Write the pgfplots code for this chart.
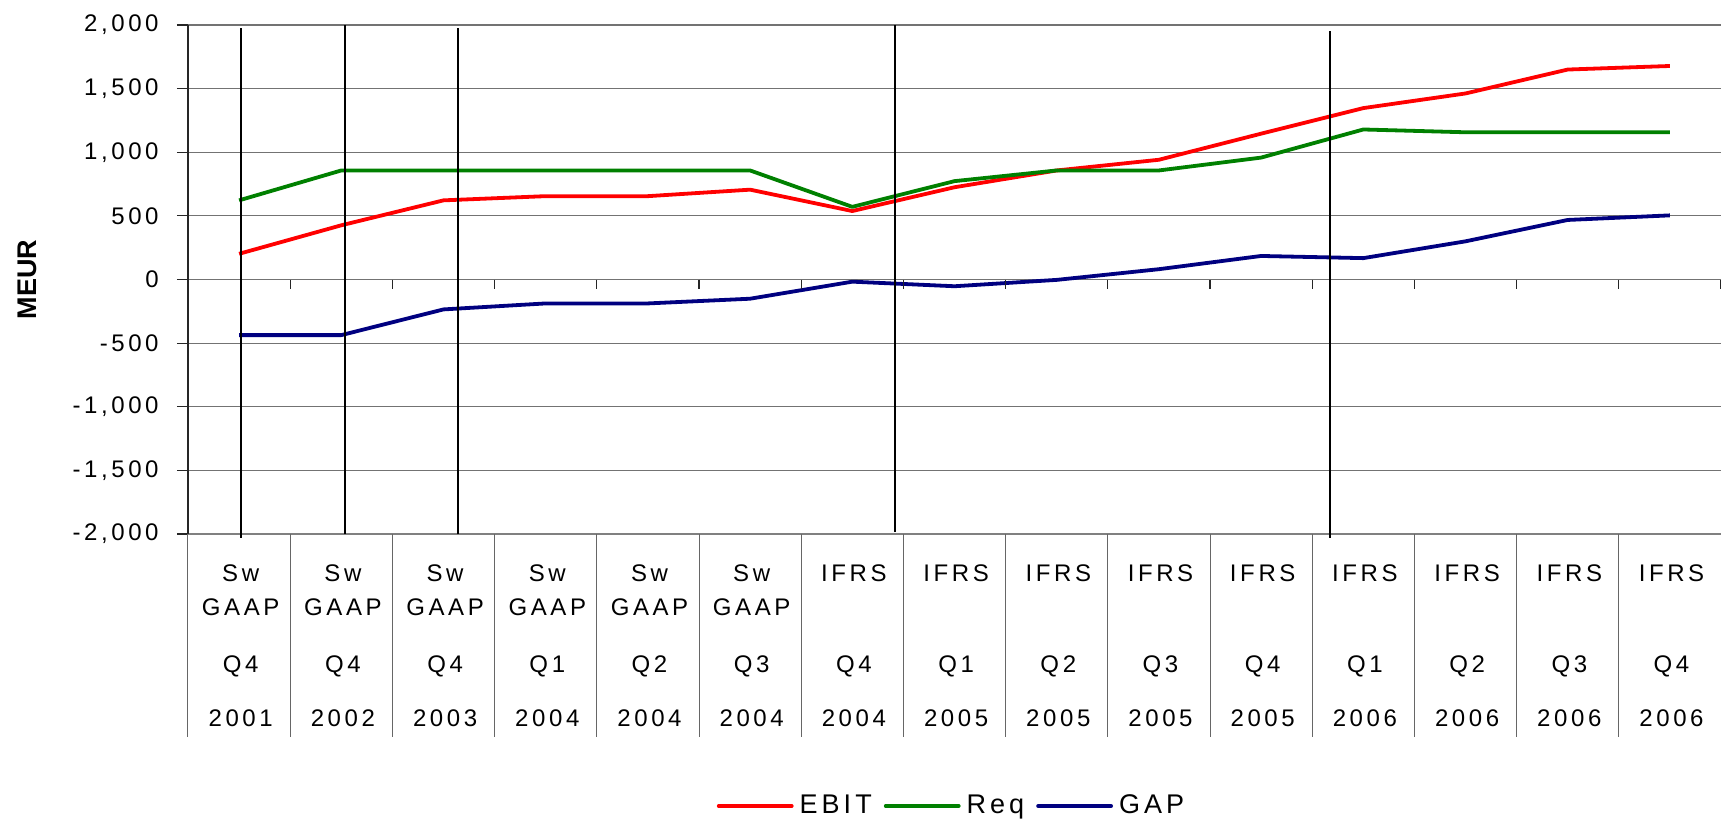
\documentclass[border=0pt]{standalone}
\usepackage{fontspec}
\setmainfont{Liberation Sans}[LetterSpace=15]
\newfontfamily\plainsans{Liberation Sans}
\usepackage{pgfplots}
\pgfplotsset{compat=1.18}
\definecolor{cRed}{HTML}{FF0000}
\definecolor{cGreen}{HTML}{008000}
\definecolor{cNavy}{HTML}{000080}
\newcommand{\lblfont}{\fontsize{12bp}{17bp}\selectfont}

\pgfplotstableread{
x EBIT Req GAP
0 202 622 -437
1 426 857 -437
2 622 857 -235
3 655 857 -188
4 655 857 -188
5 706 857 -151
6 538 571 -17
7 725 773 -53
8 857 857 -3
9 941 857 81
10 1146 958 185
11 1347 1179 168
12 1462 1157 300
13 1650 1157 468
14 1678 1157 504
}\datatable

\begin{document}
\begin{tikzpicture}
\begin{axis}[
  scale only axis, width=766.5bp, height=254.5bp,
  xmin=-0.5, xmax=14.5, ymin=-2000, ymax=2000,
  clip=false,
  axis x line*=bottom, axis y line*=left,
  x axis line style={black!50, line width=0.8bp},
  y axis line style={black!85, line width=0.6bp},
  ytick={-2000,-1500,...,2000},
  yticklabels={{-2,000},{-1,500},{-1,000},{-500},{0},{500},{1,000},{1,500},{2,000}},
  ymajorgrids, major grid style={black!55, line width=0.6bp},
  ytick align=outside,
  major tick length=5.5bp,
  y tick style={black!85, line width=0.6bp},
  xtick={0,...,14}, x tick style={draw=none},
  xticklabels={
    {Sw\\GAAP\\[11.5bp]Q4\\[10bp]2001},
    {Sw\\GAAP\\[11.5bp]Q4\\[10bp]2002},
    {Sw\\GAAP\\[11.5bp]Q4\\[10bp]2003},
    {Sw\\GAAP\\[11.5bp]Q1\\[10bp]2004},
    {Sw\\GAAP\\[11.5bp]Q2\\[10bp]2004},
    {Sw\\GAAP\\[11.5bp]Q3\\[10bp]2004},
    {IFRS\\\mbox{}\\[11.5bp]Q4\\[10bp]2004},
    {IFRS\\\mbox{}\\[11.5bp]Q1\\[10bp]2005},
    {IFRS\\\mbox{}\\[11.5bp]Q2\\[10bp]2005},
    {IFRS\\\mbox{}\\[11.5bp]Q3\\[10bp]2005},
    {IFRS\\\mbox{}\\[11.5bp]Q4\\[10bp]2005},
    {IFRS\\\mbox{}\\[11.5bp]Q1\\[10bp]2006},
    {IFRS\\\mbox{}\\[11.5bp]Q2\\[10bp]2006},
    {IFRS\\\mbox{}\\[11.5bp]Q3\\[10bp]2006},
    {IFRS\\\mbox{}\\[11.5bp]Q4\\[10bp]2006}},
  xticklabel style={font=\lblfont, align=center, anchor=north, inner sep=0pt, yshift=-15.2bp, xshift=0.8bp},
  yticklabel style={font=\lblfont, anchor=east, inner sep=0pt, xshift=-9bp},
  legend columns=3,
  legend style={at={(axis description cs:0.5,0)}, anchor=center, yshift=-136bp, xshift=-2bp,
    draw=none, fill=none, font=\fontsize{13.5bp}{16bp}\selectfont,
    nodes={inner xsep=0pt, inner ysep=0pt},
    /tikz/every odd column/.append style={column sep=3bp},
    /tikz/every even column/.append style={column sep=6bp}},
  legend image code/.code={\draw[#1, line cap=round] (0bp,0bp) -- (36.5bp,0bp);},
]
\addplot[cRed, line width=1.9bp, line join=round] table[x=x, y=EBIT] {\datatable};
\addlegendentry{EBIT}
\addplot[cGreen, line width=1.9bp, line join=round] table[x=x, y=Req] {\datatable};
\addlegendentry{Req}
\addplot[cNavy, line width=1.9bp, line join=round] table[x=x, y=GAP] {\datatable};
\addlegendentry{GAP}

\addplot[black, line width=1bp, forget plot] coordinates {(0.016,-2030) (0.016,1975)};
\addplot[black, line width=1bp, forget plot] coordinates {(1.036,-2000) (1.036,2000)};
\addplot[black, line width=1bp, forget plot] coordinates {(2.14,-2000) (2.14,1975)};
\addplot[black, line width=1bp, forget plot] coordinates {(6.42,-1985) (6.42,2000)};
\addplot[black, line width=1bp, forget plot] coordinates {(10.67,-2030) (10.67,1955)};

\pgfplotsinvokeforeach{-0.5,0.5,...,14.5}{
  \draw[black!60, line width=0.5bp] (axis cs:#1,-2000) -- ([yshift=-101.5bp]axis cs:#1,-2000);
  \draw[black!85, line width=0.6bp] (axis cs:#1,0) -- ([yshift=-4.5bp]axis cs:#1,0);
}
\node[rotate=90, font=\plainsans\bfseries\fontsize{13.5bp}{16bp}\selectfont] at ([xshift=-80.5bp]rel axis cs:0,0.5) {MEUR};
\coordinate (LL) at (rel axis cs:0,0);
\coordinate (UR) at (rel axis cs:1,1);
\end{axis}
\pgfresetboundingbox
\path[use as bounding box] ([xshift=-94bp,yshift=-142.5bp]LL) rectangle ([yshift=12.5bp]UR);
\end{tikzpicture}
\end{document}
